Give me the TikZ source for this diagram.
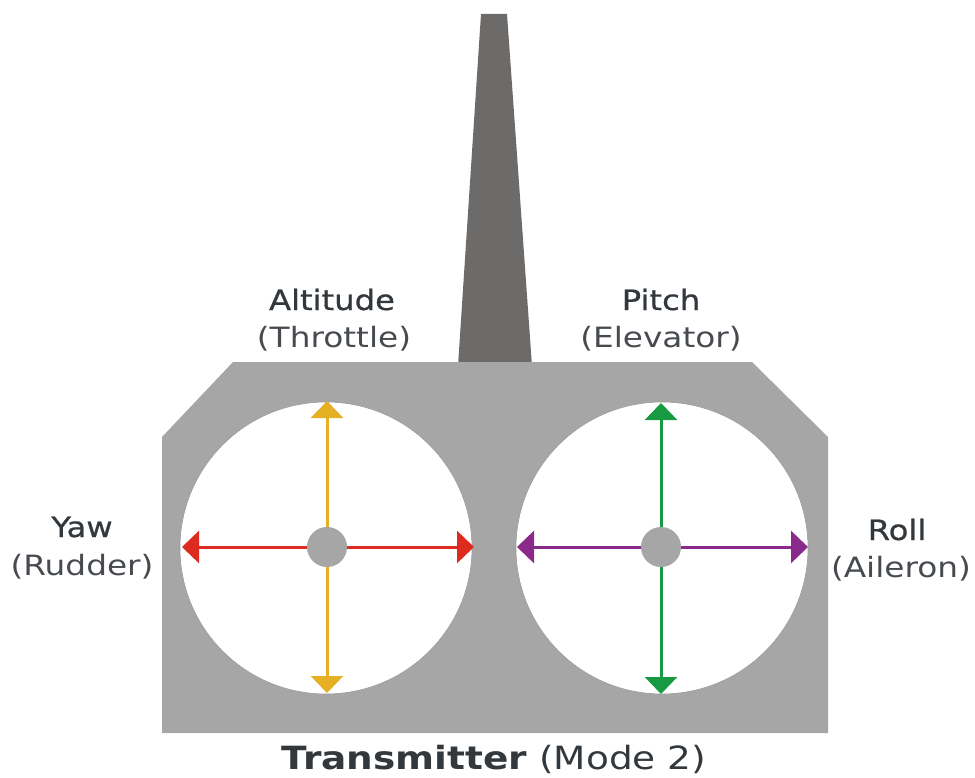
\documentclass[tikz,border=0pt]{standalone}
\usepackage{fontspec}
\setmainfont{DejaVu Sans}[FakeStretch=1.17]
\newfontfamily\heavylbl{DejaVu Sans}[FakeStretch=1.15, FakeBold=0.7]
\usetikzlibrary{arrows.meta}
\definecolor{bodygray}{HTML}{A6A6A6}
\definecolor{antgray}{HTML}{6D6B6A}
\definecolor{txtdark}{HTML}{33383D}
\definecolor{txtlight}{HTML}{474B50}
\definecolor{cred}{HTML}{DD2B1F}
\definecolor{cyellow}{HTML}{E5B024}
\definecolor{cgreen}{HTML}{179A42}
\definecolor{cpurple}{HTML}{8A2A8A}
\definecolor{rimgray}{HTML}{9A9A9A}
\tikzset{
  stickarrow/.style={line width=3pt, {Triangle[length=17pt,width=32pt]}-{Triangle[length=17pt,width=32pt]}},
  mainlbl/.style={anchor=base, inner sep=0pt, text=txtdark, font=\heavylbl\fontsize{28}{30}\selectfont},
  sublbl/.style={anchor=base, inner sep=0pt, text=txtlight, font=\fontsize{28}{30}\selectfont},
  ttl/.style={anchor=base, inner sep=0pt, text=txtdark, font=\fontsize{32}{36}\selectfont},
  gimbal/.style={circle, fill=white, draw=rimgray, line width=0.6pt, minimum size=292pt, inner sep=0pt},
  hub/.style={circle, fill=bodygray, minimum size=40pt, inner sep=0pt}
}
\begin{document}
\begin{tikzpicture}[x=1pt,y=-1pt]
\path[use as bounding box] (0,0) rectangle (975,778);
% antenna
\fill[antgray] (458,366) -- (481,14) -- (507,14) -- (532,366) -- cycle;
% body
\fill[bodygray] (233,362) -- (752,362) -- (828,437) -- (828,733) -- (162,733) -- (162,437) -- cycle;
% gimbals
\node[gimbal] (lg) at (326,548) {};
\node[gimbal] (rg) at (662,548) {};
% arrow end points
\coordinate (lw) at (182,547);
\coordinate (le) at (474,547);
\coordinate (lt) at (327,401);
\coordinate (lb) at (327,693);
\coordinate (rw) at (517,547);
\coordinate (re) at (808,547);
\coordinate (rt) at (661,403);
\coordinate (rb) at (661,694);
\draw[stickarrow, cyellow] (lt) -- (lb);
\draw[stickarrow, cred] (lw) -- (le);
\draw[stickarrow, cgreen] (rt) -- (rb);
\draw[stickarrow, cpurple] (rw) -- (re);
% hubs
\node[hub] (lh) at (327,547) {};
\node[hub] (rh) at (661,547) {};
% labels
\node[mainlbl] (alt) at (332,310) {Altitude};
\node[sublbl] (thr) at (334,347) {(Throttle)};
\node[mainlbl] (pit) at (661,310) {Pitch};
\node[sublbl] (ele) at (661,347) {(Elevator)};
\node[mainlbl] (yaw) at (82,537) {Yaw};
\node[sublbl] (rud) at (82,575) {(Rudder)};
\node[mainlbl] (rol) at (897,540) {Roll};
\node[sublbl] (ail) at (901,577) {(Aileron)};
\node[ttl] (title) at (494,769) {\textbf{Transmitter} (Mode 2)};
\end{tikzpicture}
\end{document}
